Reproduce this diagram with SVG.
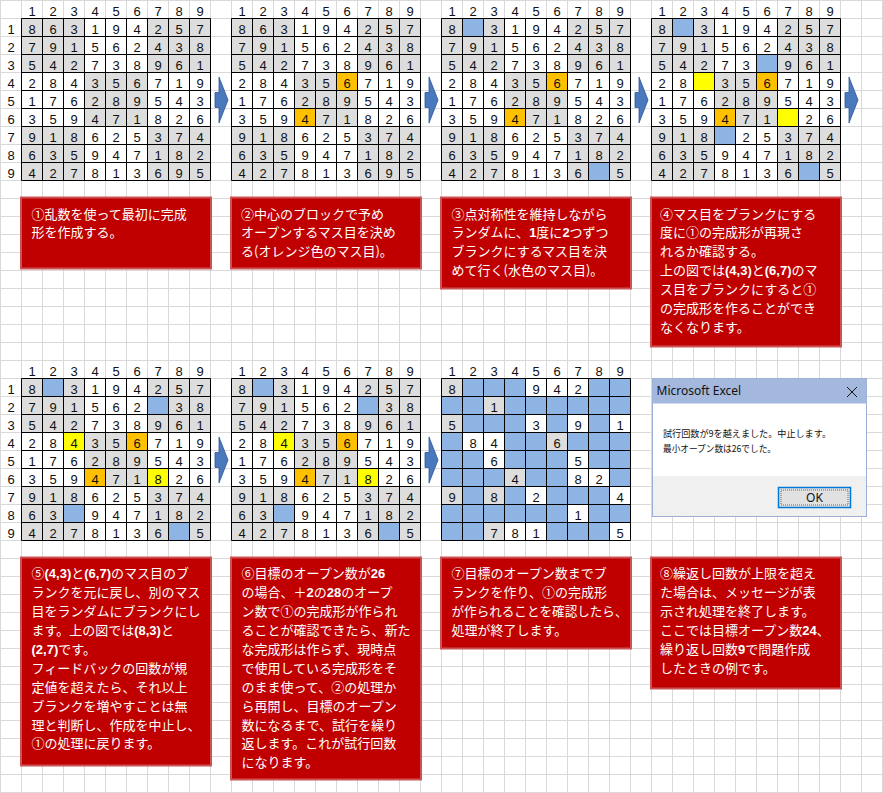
<svg xmlns="http://www.w3.org/2000/svg" xmlns:xlink="http://www.w3.org/1999/xlink" width="883" height="793" viewBox="0 0 883 793">
<style>
.gr{fill:#DDDDDD}
.wh{fill:#FFFFFF}
.bl{fill:#8DB4E2}
.or{fill:#FFC000}
.ye{fill:#FFFF00}
.gl{fill:none;stroke:#000;stroke-width:1}
.n{font-family:"Liberation Sans",Arial,sans-serif;font-size:13px;fill:#111;text-anchor:middle}
.box{fill:#C00000;stroke:#CD5454;stroke-width:2}
.bt{font-family:"Noto Sans CJK JP","Noto Sans CJK SC",sans-serif;font-size:13px;fill:#FFFFFF}
.lat{font-family:"Liberation Sans",Arial,sans-serif;font-weight:bold}
.arr{fill:#4A78BD;stroke:#2F5597;stroke-width:0.8}
.dt{font-family:"Noto Sans CJK JP",sans-serif;font-size:9.5px;fill:#111}
</style>
<defs>
<pattern id="xl" width="21" height="18" patternUnits="userSpaceOnUse"><path d="M0,0.5H21M0.5,0V18" stroke="#D9D9D9" stroke-width="1" fill="none"/></pattern>
<path id="gl" class="gl" d="M0,0H189M0,18H189M0,36H189M0,54H189M0,72H189M0,90H189M0,108H189M0,126H189M0,144H189M0,162H189M0,0V162M21,0V162M42,0V162M63,0V162M84,0V162M105,0V162M126,0V162M147,0V162M168,0V162M189,0V162"/>
<g id="base"><rect class="wh" x="0" y="0" width="189" height="162"/><rect class="gr" x="0" y="0" width="63" height="54"/><rect class="gr" x="126" y="0" width="63" height="54"/><rect class="gr" x="63" y="54" width="63" height="54"/><rect class="gr" x="0" y="108" width="63" height="54"/><rect class="gr" x="126" y="108" width="63" height="54"/></g>
<polygon id="ar" class="arr" points="4.5,-7.5 8.5,-7.5 8.5,-23 17.5,0 8.5,23 8.5,7.5 4.5,7.5"/>
</defs>
<rect x="0" y="0" width="883" height="793" fill="#FFFFFF"/>
<rect x="0" y="0" width="883" height="793" fill="url(#xl)"/>

<g id="labels">
<text class="n" x="32 53 74 95 116 137 158 179 200" y="15.5">123456789</text>
<text class="n" x="242 263 284 305 326 347 368 389 410" y="15.5">123456789</text>
<text class="n" x="452 473 494 515 536 557 578 599 620" y="15.5">123456789</text>
<text class="n" x="662 683 704 725 746 767 788 809 830" y="15.5">123456789</text>
<text class="n" x="11" y="33.5">1</text><text class="n" x="11" y="51.5">2</text><text class="n" x="11" y="69.5">3</text><text class="n" x="11" y="87.5">4</text><text class="n" x="11" y="105.5">5</text><text class="n" x="11" y="123.5">6</text><text class="n" x="11" y="141.5">7</text><text class="n" x="11" y="159.5">8</text><text class="n" x="11" y="177.5">9</text>
<text class="n" x="32 53 74 95 116 137 158 179 200" y="375.5">123456789</text>
<text class="n" x="242 263 284 305 326 347 368 389 410" y="375.5">123456789</text>
<text class="n" x="452 473 494 515 536 557 578 599 620" y="375.5">123456789</text>
<text class="n" x="11" y="393.5">1</text><text class="n" x="11" y="411.5">2</text><text class="n" x="11" y="429.5">3</text><text class="n" x="11" y="447.5">4</text><text class="n" x="11" y="465.5">5</text><text class="n" x="11" y="483.5">6</text><text class="n" x="11" y="501.5">7</text><text class="n" x="11" y="519.5">8</text><text class="n" x="11" y="537.5">9</text>
</g>

<g id="grid1">
<use href="#base" x="21.5" y="18.5"/>
<use href="#gl" x="21.5" y="18.5"/>
<text class="n" x="32 53 74 95 116 137 158 179 200" y="33.5">863194257</text>
<text class="n" x="32 53 74 95 116 137 158 179 200" y="51.5">791562438</text>
<text class="n" x="32 53 74 95 116 137 158 179 200" y="69.5">542738961</text>
<text class="n" x="32 53 74 95 116 137 158 179 200" y="87.5">284356719</text>
<text class="n" x="32 53 74 95 116 137 158 179 200" y="105.5">176289543</text>
<text class="n" x="32 53 74 95 116 137 158 179 200" y="123.5">359471826</text>
<text class="n" x="32 53 74 95 116 137 158 179 200" y="141.5">918625374</text>
<text class="n" x="32 53 74 95 116 137 158 179 200" y="159.5">635947182</text>
<text class="n" x="32 53 74 95 116 137 158 179 200" y="177.5">427813695</text>
</g>

<g id="grid2">
<use href="#base" x="231.5" y="18.5"/>
<rect class="or" x="336.5" y="72.5" width="21" height="18"/>
<rect class="or" x="294.5" y="108.5" width="21" height="18"/>
<use href="#gl" x="231.5" y="18.5"/>
<text class="n" x="242 263 284 305 326 347 368 389 410" y="33.5">863194257</text>
<text class="n" x="242 263 284 305 326 347 368 389 410" y="51.5">791562438</text>
<text class="n" x="242 263 284 305 326 347 368 389 410" y="69.5">542738961</text>
<text class="n" x="242 263 284 305 326 347 368 389 410" y="87.5">284356719</text>
<text class="n" x="242 263 284 305 326 347 368 389 410" y="105.5">176289543</text>
<text class="n" x="242 263 284 305 326 347 368 389 410" y="123.5">359471826</text>
<text class="n" x="242 263 284 305 326 347 368 389 410" y="141.5">918625374</text>
<text class="n" x="242 263 284 305 326 347 368 389 410" y="159.5">635947182</text>
<text class="n" x="242 263 284 305 326 347 368 389 410" y="177.5">427813695</text>
</g>

<g id="grid3">
<use href="#base" x="441.5" y="18.5"/>
<rect class="or" x="546.5" y="72.5" width="21" height="18"/>
<rect class="or" x="504.5" y="108.5" width="21" height="18"/>
<rect class="bl" x="462.5" y="18.5" width="21" height="18"/>
<rect class="bl" x="588.5" y="162.5" width="21" height="18"/>
<use href="#gl" x="441.5" y="18.5"/>
<text class="n" x="452 494 515 536 557 578 599 620" y="33.5">83194257</text>
<text class="n" x="452 473 494 515 536 557 578 599 620" y="51.5">791562438</text>
<text class="n" x="452 473 494 515 536 557 578 599 620" y="69.5">542738961</text>
<text class="n" x="452 473 494 515 536 557 578 599 620" y="87.5">284356719</text>
<text class="n" x="452 473 494 515 536 557 578 599 620" y="105.5">176289543</text>
<text class="n" x="452 473 494 515 536 557 578 599 620" y="123.5">359471826</text>
<text class="n" x="452 473 494 515 536 557 578 599 620" y="141.5">918625374</text>
<text class="n" x="452 473 494 515 536 557 578 599 620" y="159.5">635947182</text>
<text class="n" x="452 473 494 515 536 557 578 620" y="177.5">42781365</text>
</g>

<g id="grid4">
<use href="#base" x="651.5" y="18.5"/>
<rect class="or" x="756.5" y="72.5" width="21" height="18"/>
<rect class="or" x="714.5" y="108.5" width="21" height="18"/>
<rect class="bl" x="672.5" y="18.5" width="21" height="18"/>
<rect class="bl" x="756.5" y="54.5" width="21" height="18"/>
<rect class="bl" x="714.5" y="126.5" width="21" height="18"/>
<rect class="bl" x="798.5" y="162.5" width="21" height="18"/>
<rect class="ye" x="693.5" y="72.5" width="21" height="18"/>
<rect class="ye" x="777.5" y="108.5" width="21" height="18"/>
<use href="#gl" x="651.5" y="18.5"/>
<text class="n" x="662 704 725 746 767 788 809 830" y="33.5">83194257</text>
<text class="n" x="662 683 704 725 746 767 788 809 830" y="51.5">791562438</text>
<text class="n" x="662 683 704 725 746 788 809 830" y="69.5">54273961</text>
<text class="n" x="662 683 725 746 767 788 809 830" y="87.5">28356719</text>
<text class="n" x="662 683 704 725 746 767 788 809 830" y="105.5">176289543</text>
<text class="n" x="662 683 704 725 746 767 809 830" y="123.5">35947126</text>
<text class="n" x="662 683 704 746 767 788 809 830" y="141.5">91825374</text>
<text class="n" x="662 683 704 725 746 767 788 809 830" y="159.5">635947182</text>
<text class="n" x="662 683 704 725 746 767 788 830" y="177.5">42781365</text>
</g>

<g id="grid5">
<use href="#base" x="21.5" y="378.5"/>
<rect class="or" x="126.5" y="432.5" width="21" height="18"/>
<rect class="or" x="84.5" y="468.5" width="21" height="18"/>
<rect class="bl" x="42.5" y="378.5" width="21" height="18"/>
<rect class="bl" x="147.5" y="396.5" width="21" height="18"/>
<rect class="bl" x="63.5" y="504.5" width="21" height="18"/>
<rect class="bl" x="168.5" y="522.5" width="21" height="18"/>
<rect class="ye" x="63.5" y="432.5" width="21" height="18"/>
<rect class="ye" x="147.5" y="468.5" width="21" height="18"/>
<use href="#gl" x="21.5" y="378.5"/>
<text class="n" x="32 74 95 116 137 158 179 200" y="393.5">83194257</text>
<text class="n" x="32 53 74 95 116 137 179 200" y="411.5">79156238</text>
<text class="n" x="32 53 74 95 116 137 158 179 200" y="429.5">542738961</text>
<text class="n" x="32 53 74 95 116 137 158 179 200" y="447.5">284356719</text>
<text class="n" x="32 53 74 95 116 137 158 179 200" y="465.5">176289543</text>
<text class="n" x="32 53 74 95 116 137 158 179 200" y="483.5">359471826</text>
<text class="n" x="32 53 74 95 116 137 158 179 200" y="501.5">918625374</text>
<text class="n" x="32 53 95 116 137 158 179 200" y="519.5">63947182</text>
<text class="n" x="32 53 74 95 116 137 158 200" y="537.5">42781365</text>
</g>

<g id="grid6">
<use href="#base" x="231.5" y="378.5"/>
<rect class="or" x="336.5" y="432.5" width="21" height="18"/>
<rect class="or" x="294.5" y="468.5" width="21" height="18"/>
<rect class="bl" x="252.5" y="378.5" width="21" height="18"/>
<rect class="bl" x="357.5" y="396.5" width="21" height="18"/>
<rect class="bl" x="273.5" y="504.5" width="21" height="18"/>
<rect class="bl" x="378.5" y="522.5" width="21" height="18"/>
<rect class="ye" x="273.5" y="432.5" width="21" height="18"/>
<rect class="ye" x="357.5" y="468.5" width="21" height="18"/>
<use href="#gl" x="231.5" y="378.5"/>
<text class="n" x="242 284 305 326 347 368 389 410" y="393.5">83194257</text>
<text class="n" x="242 263 284 305 326 347 389 410" y="411.5">79156238</text>
<text class="n" x="242 263 284 305 326 347 368 389 410" y="429.5">542738961</text>
<text class="n" x="242 263 284 305 326 347 368 389 410" y="447.5">284356719</text>
<text class="n" x="242 263 284 305 326 347 368 389 410" y="465.5">176289543</text>
<text class="n" x="242 263 284 305 326 347 368 389 410" y="483.5">359471826</text>
<text class="n" x="242 263 284 305 326 347 368 389 410" y="501.5">918625374</text>
<text class="n" x="242 263 305 326 347 368 389 410" y="519.5">63947182</text>
<text class="n" x="242 263 284 305 326 347 368 410" y="537.5">42781365</text>
</g>

<g id="grid7">
<rect class="bl" x="441.5" y="378.5" width="189" height="162"/>
<g class="gr">
<rect x="441.5" y="378.5" width="21" height="18"/><rect x="483.5" y="396.5" width="21" height="18"/><rect x="441.5" y="414.5" width="21" height="18"/><rect x="546.5" y="432.5" width="21" height="18"/><rect x="504.5" y="468.5" width="21" height="18"/><rect x="441.5" y="486.5" width="21" height="18"/><rect x="483.5" y="486.5" width="21" height="18"/><rect x="483.5" y="522.5" width="21" height="18"/>
</g>
<g class="wh">
<rect x="525.5" y="378.5" width="21" height="18"/><rect x="546.5" y="378.5" width="21" height="18"/><rect x="567.5" y="378.5" width="21" height="18"/><rect x="525.5" y="414.5" width="21" height="18"/><rect x="567.5" y="414.5" width="21" height="18"/><rect x="609.5" y="414.5" width="21" height="18"/><rect x="462.5" y="432.5" width="21" height="18"/><rect x="483.5" y="432.5" width="21" height="18"/><rect x="483.5" y="450.5" width="21" height="18"/><rect x="567.5" y="450.5" width="21" height="18"/><rect x="567.5" y="468.5" width="21" height="18"/><rect x="588.5" y="468.5" width="21" height="18"/><rect x="525.5" y="486.5" width="21" height="18"/><rect x="609.5" y="486.5" width="21" height="18"/><rect x="567.5" y="504.5" width="21" height="18"/><rect x="504.5" y="522.5" width="21" height="18"/><rect x="525.5" y="522.5" width="21" height="18"/><rect x="609.5" y="522.5" width="21" height="18"/>
</g>
<use href="#gl" x="441.5" y="378.5"/>
<text class="n" x="452 536 557 578" y="393.5">8942</text>
<text class="n" x="494" y="411.5">1</text>
<text class="n" x="452 536 578 620" y="429.5">5391</text>
<text class="n" x="473 494 557" y="447.5">846</text>
<text class="n" x="494 578" y="465.5">65</text>
<text class="n" x="515 578 599" y="483.5">482</text>
<text class="n" x="452 494 536 620" y="501.5">9824</text>
<text class="n" x="578" y="519.5">1</text>
<text class="n" x="494 515 536 620" y="537.5">7815</text>
</g>

<g id="connectors">
<use href="#ar" x="210.5" y="100"/>
<use href="#ar" x="420.5" y="100"/>
<use href="#ar" x="630.5" y="100"/>
<use href="#ar" x="840.5" y="100"/>
<use href="#ar" x="210.5" y="460"/>
<use href="#ar" x="420.5" y="460"/>
</g>

<g id="note1">
<rect class="box" x="21" y="197.5" width="190" height="71"/>
<text class="bt" x="31.5" y="218.5">①乱数を使って最初に完成</text>
<text class="bt" x="31.5" y="237.4">形を作成する。</text>
</g>
<g id="note2">
<rect class="box" x="231" y="197.5" width="190" height="71"/>
<text class="bt" x="241" y="218.5">②中心のブロックで予め</text>
<text class="bt" x="241" y="237.4">オープンするマス目を決め</text>
<text class="bt" x="241" y="256.3">る(オレンジ色のマス目)。</text>
</g>
<g id="note3">
<rect class="box" x="441" y="197.5" width="190" height="91"/>
<text class="bt" x="451.5" y="218.5">③点対称性を維持しながら</text>
<text class="bt" x="451.5" y="237.4">ランダムに、<tspan class="lat">1</tspan>度に<tspan class="lat">2</tspan>つずつ</text>
<text class="bt" x="451.5" y="256.3">ブランクにするマス目を決</text>
<text class="bt" x="451.5" y="275.2">めて行く(水色のマス目)。</text>
</g>
<g id="note4">
<rect class="box" x="651" y="197.5" width="190" height="149"/>
<text class="bt" x="660" y="218.5">④マス目をブランクにする</text>
<text class="bt" x="660" y="237.4">度に①の完成形が再現さ</text>
<text class="bt" x="660" y="256.3">れるか確認する。</text>
<text class="bt" x="660" y="275.2">上の図では<tspan class="lat">(4,3)</tspan>と<tspan class="lat">(6,7)</tspan>のマ</text>
<text class="bt" x="660" y="294.1">ス目をブランクにすると①</text>
<text class="bt" x="660" y="313">の完成形を作ることができ</text>
<text class="bt" x="660" y="331.9">なくなります。</text>
</g>
<g id="note5">
<rect class="box" x="21" y="557.5" width="190" height="208"/>
<text class="bt" x="31.5" y="578.3">⑤<tspan class="lat">(4,3)</tspan>と<tspan class="lat">(6,7)</tspan>のマス目のブ</text>
<text class="bt" x="31.5" y="597.2">ランクを元に戻し、別のマス</text>
<text class="bt" x="31.5" y="616.1">目をランダムにブランクにし</text>
<text class="bt" x="31.5" y="635">ます。上の図では<tspan class="lat">(8,3)</tspan>と</text>
<text class="bt" x="31.5" y="653.9"><tspan class="lat">(2,7)</tspan>です。</text>
<text class="bt" x="31.5" y="672.8">フィードバックの回数が規</text>
<text class="bt" x="31.5" y="691.7">定値を超えたら、それ以上</text>
<text class="bt" x="31.5" y="710.6">ブランクを増やすことは無</text>
<text class="bt" x="31.5" y="729.5">理と判断し、作成を中止し、</text>
<text class="bt" x="31.5" y="748.4">①の処理に戻ります。</text>
</g>
<g id="note6">
<rect class="box" x="231" y="557.5" width="190" height="222"/>
<text class="bt" x="241.5" y="578.3">⑥目標のオープン数が<tspan class="lat">26</tspan></text>
<text class="bt" x="241.5" y="597.2">の場合、＋<tspan class="lat">2</tspan>の<tspan class="lat">28</tspan>のオープ</text>
<text class="bt" x="241.5" y="616.1">ン数で①の完成形が作られ</text>
<text class="bt" x="241.5" y="635">ることが確認できたら、新た</text>
<text class="bt" x="241.5" y="653.9">な完成形は作らず、現時点</text>
<text class="bt" x="241.5" y="672.8">で使用している完成形をそ</text>
<text class="bt" x="241.5" y="691.7">のまま使って、②の処理か</text>
<text class="bt" x="241.5" y="710.6">ら再開し、目標のオープン</text>
<text class="bt" x="241.5" y="729.5">数になるまで、試行を繰り</text>
<text class="bt" x="241.5" y="748.4">返します。これが試行回数</text>
<text class="bt" x="241.5" y="767.3">になります。</text>
</g>
<g id="note7">
<rect class="box" x="441" y="557.5" width="190" height="91"/>
<text class="bt" x="451.5" y="578.3">⑦目標のオープン数までブ</text>
<text class="bt" x="451.5" y="597.2">ランクを作り、①の完成形</text>
<text class="bt" x="451.5" y="616.1" textLength="176" lengthAdjust="spacingAndGlyphs">が作られることを確認したら、</text>
<text class="bt" x="451.5" y="635">処理が終了します。</text>
</g>
<g id="note8">
<rect class="box" x="651" y="557.5" width="190" height="131"/>
<text class="bt" x="660" y="578.3">⑧繰返し回数が上限を超え</text>
<text class="bt" x="660" y="597.2">た場合は、メッセージが表</text>
<text class="bt" x="660" y="616.1">示され処理を終了します。</text>
<text class="bt" x="660" y="635">ここでは目標オープン数<tspan class="lat">24</tspan>、</text>
<text class="bt" x="660" y="653.9">繰り返し回数<tspan class="lat">9</tspan>で問題作成</text>
<text class="bt" x="660" y="672.8">したときの例です。</text>
</g>

<g id="dialog">
<rect x="652.5" y="378.5" width="214" height="138" fill="#FFFFFF" stroke="#9AAFD3" stroke-width="1"/>
<rect x="652.5" y="378.5" width="214" height="25" fill="#A3B8DC"/>
<text x="656.5" y="395" font-family="'Noto Sans','Open Sans',sans-serif" font-size="12" fill="#111">Microsoft Excel</text>
<path d="M847,387L857,397M857,387L847,397" stroke="#111" stroke-width="1" fill="none"/>
<text class="dt" x="663" y="437" textLength="168" lengthAdjust="spacingAndGlyphs">試行回数が9を越えました。中止します。</text>
<text class="dt" x="663" y="451.5" textLength="113" lengthAdjust="spacingAndGlyphs">最小オープン数は26でした。</text>
<rect x="653" y="476" width="213" height="40" fill="#F0F0F0"/>
<rect x="778.5" y="487.5" width="72" height="20" fill="#E1E1E1" stroke="#0078D7" stroke-width="1.5"/>
<rect x="781" y="490" width="67" height="15" fill="none" stroke="#333" stroke-width="0.7" stroke-dasharray="1,1"/>
<text x="814.5" y="502" font-family="'Noto Sans','Open Sans',sans-serif" font-size="12" fill="#111" text-anchor="middle">OK</text>
</g>
</svg>
